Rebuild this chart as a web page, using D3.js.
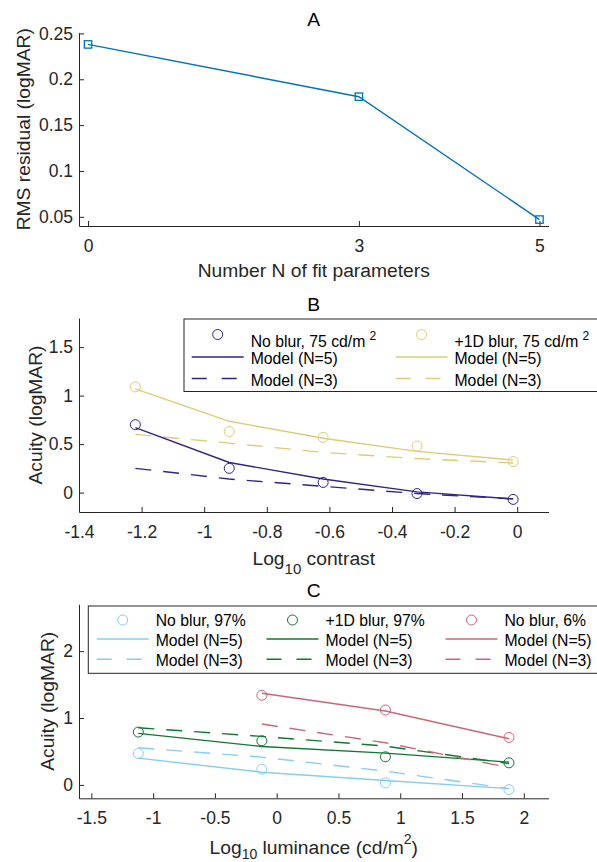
<!DOCTYPE html>
<html>
<head>
<meta charset="utf-8">
<script src="https://cdn.jsdelivr.net/npm/d3@7"></script>
<style>
  body { margin: 0; background: #fff; }
  svg { display: block; font-family: "Liberation Sans", Arial, Helvetica, sans-serif; }
</style>
</head>
<body>
<svg id="fig" width="597" height="862"></svg>
<script>
// ---- Panel A : RMS residual vs number of fit parameters ----
const nParams = [0, 3, 5];
const rmsResidual = [0.238, 0.181, 0.047];
const aXTicks = [0, 3, 5];
const aYTicks = [0.05, 0.1, 0.15, 0.2, 0.25];

// ---- Panel B : acuity vs log10 contrast ----
const logContrast = [-1.22, -0.92, -0.62, -0.32, -0.013];
const bNoBlurData = [0.70, 0.25, 0.105, -0.01, -0.07];
const bNoBlurN5   = [0.67, 0.31, 0.14, 0.008, -0.065];
const bNoBlurN3   = [0.25, 0.14, 0.065, -0.01, -0.065];
const bBlurData   = [1.09, 0.63, 0.57, 0.48, 0.32];
const bBlurN5     = [1.07, 0.735, 0.56, 0.425, 0.335];
const bBlurN3     = [0.60, 0.51, 0.415, 0.35, 0.305];
const bXTicks = [-1.4, -1.2, -1, -0.8, -0.6, -0.4, -0.2, 0];
const bYTicks = [0, 0.5, 1, 1.5];

// ---- Panel C : acuity vs log10 luminance ----
const logLuminance = [-1.12, -0.12, 0.88, 1.88];
const cNoBlur97Data = [0.47, 0.235, 0.03, -0.07];
const cNoBlur97N5   = [0.40, 0.19, 0.065, -0.055];
const cNoBlur97N3   = [0.555, 0.415, 0.206, -0.055];
const cBlur97Data   = [0.79, 0.66, 0.42, 0.33];
const cBlur97N5     = [0.77, 0.575, 0.475, 0.34];
const cBlur97N3     = [0.855, 0.725, 0.58, 0.32];
const logLuminance6 = [-0.12, 0.88, 1.88];
const cNoBlur6Data  = [1.34, 1.12, 0.71];
const cNoBlur6N5    = [1.37, 1.105, 0.69];
const cNoBlur6N3    = [0.91, 0.63, 0.26];
const cXTicks = [-1.5, -1, -0.5, 0, 0.5, 1, 1.5, 2];
const cYTicks = [0, 1, 2];

const AXIS = "#262626";
const TICK_FS = 17.5, LABEL_FS = 19.25, LEGEND_FS = 15.75;
const DASH = "16,12";

const svg = d3.select("#fig");
svg.append("rect").attr("width", 597).attr("height", 862).attr("fill", "#fff");

function drawAxes(o) {
  const x = d3.scaleLinear().domain(o.xDomain).range([o.left, o.right]);
  const y = d3.scaleLinear().domain(o.yDomain).range([o.bottom, o.top]);
  const g = svg.append("g");

  const xAxis = g.append("g")
    .attr("transform", `translate(0,${o.bottom})`)
    .call(d3.axisBottom(x).tickValues(o.xTicks).tickSizeInner(-5).tickSizeOuter(0)
      .tickPadding(13.5).tickFormat(d => String(d)));
  const yAxis = g.append("g")
    .attr("transform", `translate(${o.left},0)`)
    .call(d3.axisLeft(y).tickValues(o.yTicks).tickSizeInner(-5).tickSizeOuter(0)
      .tickPadding(6).tickFormat(d => String(d)));

  [xAxis, yAxis].forEach(a => {
    a.attr("font-family", null).attr("font-size", TICK_FS);
    a.selectAll("path, line").attr("stroke", AXIS).attr("stroke-width", 1);
    a.selectAll("text").attr("fill", AXIS);
  });

  // title
  g.append("text")
    .attr("x", (o.left + o.right) / 2).attr("y", o.top - 7)
    .attr("text-anchor", "middle").attr("font-size", LABEL_FS).attr("fill", "#000")
    .text(o.title);

  // y label
  g.append("text")
    .attr("transform", `translate(${o.yLabelX},${(o.top + o.bottom) / 2}) rotate(-90)`)
    .attr("text-anchor", "middle").attr("font-size", LABEL_FS).attr("fill", AXIS)
    .text(o.yLabel);

  // x label (may carry sub/superscripts)
  const xl = g.append("text")
    .attr("x", (o.left + o.right) / 2).attr("y", o.xLabelY)
    .attr("text-anchor", "middle").attr("font-size", LABEL_FS).attr("fill", AXIS);
  o.xLabel.forEach(part => {
    const t = xl.append("tspan").text(part.t);
    if (part.dy) t.attr("dy", part.dy).attr("font-size", part.fs);
  });

  return { x, y, g };
}

function drawLine(ax, xs, ys, color, dashed) {
  const line = d3.line().x((d, i) => ax.x(xs[i])).y(d => ax.y(d));
  ax.g.append("path")
    .datum(ys)
    .attr("d", line)
    .attr("fill", "none")
    .attr("stroke", color)
    .attr("stroke-width", 1.4)
    .attr("stroke-dasharray", dashed ? DASH : null);
}

function drawCircles(ax, xs, ys, color) {
  ax.g.selectAll(null)
    .data(ys)
    .join("circle")
    .attr("cx", (d, i) => ax.x(xs[i]))
    .attr("cy", d => ax.y(d))
    .attr("r", 5)
    .attr("fill", "none")
    .attr("stroke", color)
    .attr("stroke-width", 1);
}

function legendText(g, x, y, label, sup) {
  const t = g.append("text").attr("x", x).attr("y", y)
    .attr("font-size", LEGEND_FS).attr("fill", "#000").text(label);
  if (sup) t.append("tspan").attr("dx", 4).attr("dy", -7).attr("font-size", 12).text(sup);
}

function legendColumn(g, lx, rows, color, label, sup) {
  // rows: [markerY, textY1, lineY2, textY2, lineY3, textY3]
  g.append("circle").attr("cx", lx + 26).attr("cy", rows[0]).attr("r", 5)
    .attr("fill", "none").attr("stroke", color).attr("stroke-width", 1);
  legendText(g, lx + 59, rows[1], label, sup);
  g.append("line").attr("x1", lx).attr("x2", lx + 52).attr("y1", rows[2]).attr("y2", rows[2])
    .attr("stroke", color).attr("stroke-width", 1.4);
  legendText(g, lx + 59, rows[3], "Model (N=5)");
  g.append("line").attr("x1", lx).attr("x2", lx + 52).attr("y1", rows[4]).attr("y2", rows[4])
    .attr("stroke", color).attr("stroke-width", 1.4).attr("stroke-dasharray", "15,15");
  legendText(g, lx + 59, rows[5], "Model (N=3)");
}

// ================= Panel A =================
const axA = drawAxes({
  left: 79, right: 548.5, top: 32.5, bottom: 226,
  xDomain: [-0.1, 5.1], yDomain: [0.04, 0.251],
  xTicks: aXTicks, yTicks: aYTicks,
  title: "A", yLabel: "RMS residual (logMAR)", yLabelX: 30,
  xLabel: [{ t: "Number N of fit parameters" }], xLabelY: 277
});
drawLine(axA, nParams, rmsResidual, "#0072BD", false);
axA.g.selectAll(null).data(rmsResidual).join("rect")
  .attr("x", (d, i) => axA.x(nParams[i]) - 3.7)
  .attr("y", d => axA.y(d) - 3.7)
  .attr("width", 7.4).attr("height", 7.4)
  .attr("fill", "none").attr("stroke", "#0072BD").attr("stroke-width", 1.3);

// ================= Panel B =================
const NAVY = "#332288", SAND = "#DDCC77";
const axB = drawAxes({
  left: 79, right: 548.5, top: 318, bottom: 512,
  xDomain: [-1.4, 0.1], yDomain: [-0.2, 1.8],
  xTicks: bXTicks, yTicks: bYTicks,
  title: "B", yLabel: "Acuity (logMAR)", yLabelX: 41.5,
  xLabel: [{ t: "Log" }, { t: "10", dy: 9, fs: 15 }, { t: " contrast", dy: -9, fs: LABEL_FS }],
  xLabelY: 565
});
drawLine(axB, logContrast, bBlurN5, SAND, false);
drawLine(axB, logContrast, bBlurN3, SAND, true);
drawLine(axB, logContrast, bNoBlurN5, NAVY, false);
drawLine(axB, logContrast, bNoBlurN3, NAVY, true);
drawCircles(axB, logContrast, bBlurData, SAND);
drawCircles(axB, logContrast, bNoBlurData, NAVY);

const legB = svg.append("g");
legB.append("rect").attr("x", 184).attr("y", 319).attr("width", 420).attr("height", 72.5)
  .attr("fill", "#fff").attr("stroke", AXIS).attr("stroke-width", 1);
const rowsB = [334.5, 346.5, 357, 363.5, 378.5, 385.5];
legendColumn(legB, 191.7, rowsB, NAVY, "No blur, 75 cd/m", "2");
legendColumn(legB, 395.5, rowsB, SAND, "+1D blur, 75 cd/m", "2");

// ================= Panel C =================
const CYAN = "#88CCEE", GREEN = "#117733", ROSE = "#CC6677";
const axC = drawAxes({
  left: 79, right: 548.5, top: 604.3, bottom: 798.3,
  xDomain: [-1.6, 2.2], yDomain: [-0.2, 2.7],
  xTicks: cXTicks, yTicks: cYTicks,
  title: "C", yLabel: "Acuity (logMAR)", yLabelX: 54,
  xLabel: [{ t: "Log" }, { t: "10", dy: 5, fs: 14 }, { t: " luminance (cd/m", dy: -5, fs: LABEL_FS },
           { t: "2", dy: -10, fs: 14 }, { t: ")", dy: 10, fs: LABEL_FS }],
  xLabelY: 853.5
});
drawLine(axC, logLuminance, cNoBlur97N5, CYAN, false);
drawLine(axC, logLuminance, cNoBlur97N3, CYAN, true);
drawLine(axC, logLuminance, cBlur97N5, GREEN, false);
drawLine(axC, logLuminance, cBlur97N3, GREEN, true);
drawLine(axC, logLuminance6, cNoBlur6N5, ROSE, false);
drawLine(axC, logLuminance6, cNoBlur6N3, ROSE, true);
drawCircles(axC, logLuminance, cNoBlur97Data, CYAN);
drawCircles(axC, logLuminance, cBlur97Data, GREEN);
drawCircles(axC, logLuminance6, cNoBlur6Data, ROSE);

const legC = svg.append("g");
legC.append("rect").attr("x", 88.3).attr("y", 606).attr("width", 520).attr("height", 67.3)
  .attr("fill", "#fff").attr("stroke", AXIS).attr("stroke-width", 1);
const rowsC = [620, 625.7, 639, 645.7, 659.3, 665.7];
legendColumn(legC, 96.7, rowsC, CYAN, "No blur, 97%");
legendColumn(legC, 266.5, rowsC, GREEN, "+1D blur, 97%");
legendColumn(legC, 445.5, rowsC, ROSE, "No blur, 6%");
</script>
</body>
</html>
